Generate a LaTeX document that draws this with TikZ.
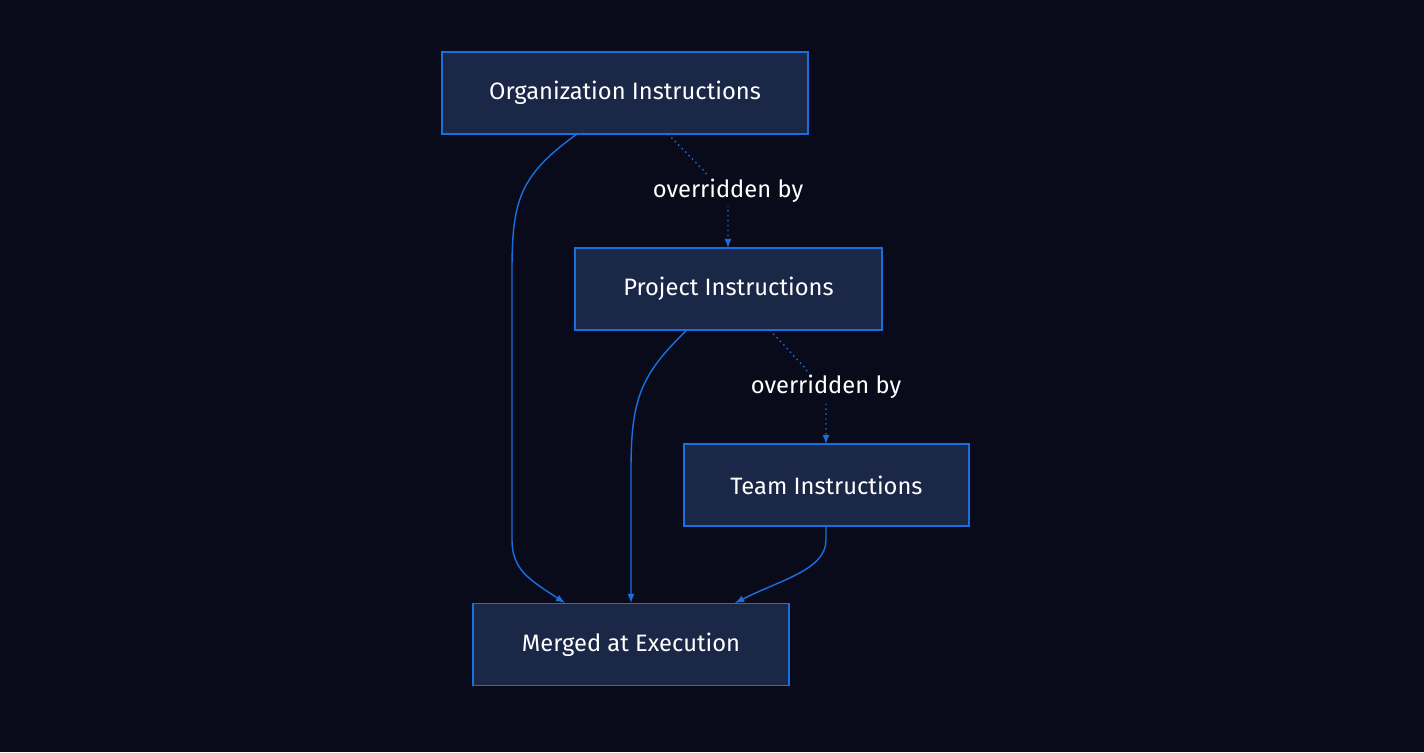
\documentclass[tikz,border=0pt]{standalone}
\usepackage{fontspec}
\setmainfont{Fira Sans}
\definecolor{bgcol}{HTML}{0A0B1A}
\definecolor{boxfill}{HTML}{1B2746}
\definecolor{boxline}{HTML}{1A6FE0}
\begin{document}
\begin{tikzpicture}[x=0.02cm, y=-0.02cm]
\tikzset{ >=latex,
  box/.style={draw=boxline, fill=boxfill, line width=0.9pt, minimum height=82*0.02cm,
    text=white, font=\fontsize{13.5}{16}\selectfont, inner sep=0pt},
  link/.style={draw=boxline, line width=0.8pt, ->},
  over/.style={draw=boxline, line width=0.8pt, dotted, ->},
  lab/.style={fill=bgcol, text=white, font=\fontsize{13.5}{16}\selectfont, inner sep=2pt},
}

\fill [bgcol] (0,0) rectangle (1424,752);

\node [box, minimum width=366*0.02cm] (O) at (625,93)    {Organization Instructions};
\node [box, minimum width=307*0.02cm] (P) at (728.5,289) {Project Instructions};
\node [box, minimum width=285*0.02cm] (T) at (826.5,485) {Team Instructions};
\node [box, minimum width=316*0.02cm] (M) at (631,644.5) {Merged at Execution};

\coordinate (o1) at (577,134);  \coordinate (o2) at (668,134);
\coordinate (p1) at (687,330);  \coordinate (p2) at (770,330);
\coordinate (t1) at (826,526);
\coordinate (m1) at (565,603);  \coordinate (m2) at (631,603);  \coordinate (m3) at (735,603);
\coordinate (pt) at (728,248);  \coordinate (tt) at (826,444);

\draw [link] (o1) .. controls (520,175) and (512,200) .. (512,270)
  -- (512,540) .. controls (512,570) and (530,580) .. (m1);
\draw [link] (p1) .. controls (640,375) and (631,400) .. (631,470) -- (m2);
\draw [link] (t1) -- (826,540) .. controls (826,570) and (780,580) .. (m3);

\draw [over] (o2) -- (705,172) -- (728,205) -- (pt);
\draw [over] (p2) -- (805,368) -- (826,400) -- (tt);

\node [lab] (L1) at (728,191) {overridden by};
\node [lab] (L2) at (826,387) {overridden by};

\end{tikzpicture}
\end{document}
